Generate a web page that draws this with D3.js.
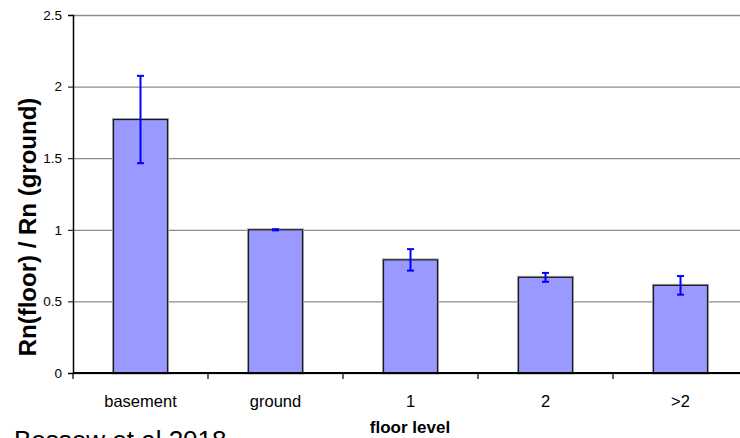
<!DOCTYPE html>
<html>
<head>
<meta charset="utf-8">
<script src="https://cdn.jsdelivr.net/npm/d3@7"></script>
<style>
  body { margin: 0; background: #fff; }
  svg { display: block; }
  text { font-family: "Liberation Sans", Arial, sans-serif; fill: #000; }
</style>
</head>
<body>
<svg id="chart" width="740" height="438"></svg>
<script>
// chart data
var categories = ['basement', 'ground', '1', '2', '>2'];
var ratios = [1.77, 1.0, 0.79, 0.668, 0.612];
var errors = [0.305, 0.004, 0.075, 0.031, 0.065];
var yTicks = [0, 0.5, 1, 1.5, 2, 2.5];

(function(){
    'use strict';

    var svg = d3.select('#chart'),
        plotLeft = 73, plotRight = 748, plotTop = 15, plotBottom = 373;

    var x = d3.scaleBand()
        .domain(categories)
        .range([plotLeft, plotRight])
        .paddingInner(0.6)
        .paddingOuter(0.3);

    var y = d3.scaleLinear().domain([0, 2.5]).range([plotBottom, plotTop]);

    // gridlines
    svg.append('g')
        .selectAll('line')
        .data(yTicks)
        .enter().append('line')
        .attr('x1', plotLeft).attr('x2', 740)
        .attr('y1', function(d){ return y(d) + 0.5; })
        .attr('y2', function(d){ return y(d) + 0.5; })
        .attr('stroke', '#8c8c8c')
        .attr('stroke-width', 1.3);

    // bars, with a soft grey edge under the black outline
    var bars = svg.append('g');
    bars.selectAll('rect.shadow')
        .data(ratios)
        .enter().append('rect')
        .attr('class', 'shadow')
        .attr('x', function(d, i){ return x(categories[i]); })
        .attr('y', function(d){ return y(d); })
        .attr('width', x.bandwidth())
        .attr('height', function(d){ return plotBottom - y(d); })
        .attr('fill', 'none')
        .attr('stroke', '#aaaaaa')
        .attr('stroke-width', 3);

    bars.selectAll('rect.bar')
        .data(ratios)
        .enter().append('rect')
        .attr('class', 'bar')
        .attr('x', function(d, i){ return x(categories[i]); })
        .attr('y', function(d){ return y(d); })
        .attr('width', x.bandwidth())
        .attr('height', function(d){ return plotBottom - y(d); })
        .attr('fill', '#9999ff')
        .attr('stroke', '#1a1a1a')
        .attr('stroke-width', 1.2);

    // error bars
    var err = svg.append('g')
        .attr('stroke', '#0000ff')
        .attr('stroke-width', 2);

    ratios.forEach(function(v, i){
        var cx = x(categories[i]) + x.bandwidth() / 2,
            hi = y(v + errors[i]),
            lo = y(v - errors[i]);
        err.append('line').attr('x1', cx).attr('x2', cx).attr('y1', hi).attr('y2', lo);
        err.append('line').attr('x1', cx - 3.5).attr('x2', cx + 3.5).attr('y1', hi).attr('y2', hi);
        err.append('line').attr('x1', cx - 3.5).attr('x2', cx + 3.5).attr('y1', lo).attr('y2', lo);
    });

    // y axis
    var yAxis = svg.append('g')
        .attr('transform', 'translate(' + plotLeft + ',0)')
        .call(d3.axisLeft(y).tickValues(yTicks).tickSize(5).tickPadding(6)
            .tickFormat(function(d){ return d; }));
    yAxis.select('.domain').attr('stroke', '#000').attr('stroke-width', 1.5);
    yAxis.selectAll('.tick line').attr('stroke', '#000');
    yAxis.selectAll('text')
        .style('font-family', '"Liberation Sans", Arial, sans-serif')
        .style('font-size', '13.5px');

    // x axis (ticks at category boundaries)
    svg.append('line')
        .attr('x1', plotLeft).attr('x2', 740)
        .attr('y1', plotBottom).attr('y2', plotBottom)
        .attr('stroke', '#000').attr('stroke-width', 1.8);

    var step = x.step();
    svg.append('g')
        .selectAll('line')
        .data(categories)
        .enter().append('line')
        .attr('x1', function(d){ return x(d) - x.paddingOuter() * step; })
        .attr('x2', function(d){ return x(d) - x.paddingOuter() * step; })
        .attr('y1', plotBottom).attr('y2', plotBottom + 6)
        .attr('stroke', '#000').attr('stroke-width', 1.2);

    svg.append('g')
        .selectAll('text')
        .data(categories)
        .enter().append('text')
        .attr('x', function(d){ return x(d) + x.bandwidth() / 2; })
        .attr('y', 407)
        .attr('text-anchor', 'middle')
        .style('font-size', '16.5px')
        .text(function(d){ return d; });

    // titles
    svg.append('text')
        .attr('transform', 'translate(36,227) rotate(-90)')
        .attr('text-anchor', 'middle')
        .style('font-size', '24px')
        .style('font-weight', 'bold')
        .text('Rn(floor) / Rn (ground)');

    svg.append('text')
        .attr('x', 410).attr('y', 433)
        .attr('text-anchor', 'middle')
        .style('font-size', '17px')
        .style('font-weight', 'bold')
        .text('floor level');

    svg.append('text')
        .attr('x', 14).attr('y', 449)
        .style('font-size', '26px')
        .text('Bossew et al 2018');
})();
</script>
</body>
</html>
